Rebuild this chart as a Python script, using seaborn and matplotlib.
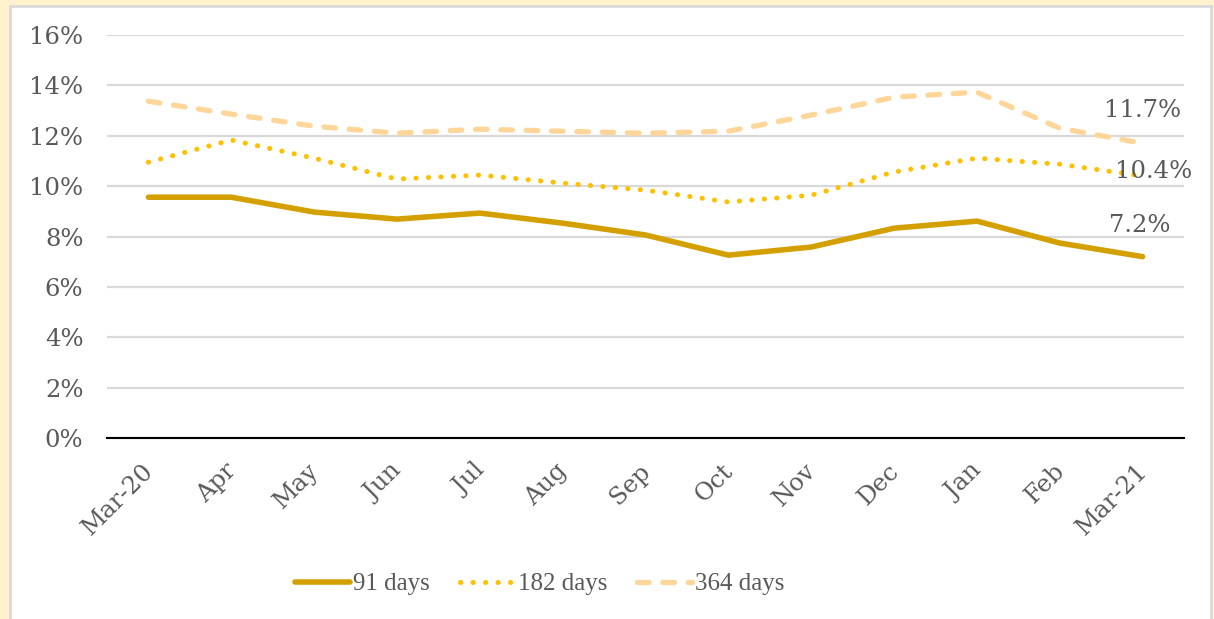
import matplotlib
matplotlib.use("Agg")
import matplotlib.pyplot as plt
import matplotlib.transforms as mtransforms
from matplotlib.patches import Rectangle
import seaborn as sns
import pandas as pd

months = ["Mar-20", "Apr", "May", "Jun", "Jul", "Aug", "Sep", "Oct", "Nov", "Dec", "Jan", "Feb", "Mar-21"]
days_91 = [9.56, 9.56, 8.97, 8.69, 8.93, 8.53, 8.06, 7.26, 7.58, 8.33, 8.61, 7.74, 7.2]
days_182 = [10.95, 11.83, 11.11, 10.28, 10.44, 10.12, 9.84, 9.37, 9.64, 10.56, 11.11, 10.87, 10.4]
days_364 = [13.37, 12.86, 12.38, 12.10, 12.26, 12.18, 12.10, 12.18, 12.82, 13.53, 13.73, 12.30, 11.7]
series_names = ["91 days", "182 days", "364 days"]
end_labels = ["7.2%", "10.4%", "11.7%"]
y_ticks = [0, 2, 4, 6, 8, 10, 12, 14, 16]

sns.set_theme(style="white")
plt.rcParams["font.family"] = ["DejaVu Serif"]
TXT = "#595959"
FS = 17.5

W, H = 1214, 619
fig = plt.figure(figsize=(W / 100, H / 100), dpi=100)
fig.patch.set_facecolor("#FFF2CC")
bg = Rectangle((10 / W, -0.01), (1211 - 10) / W, 1 - 6 / H + 0.01,
               transform=fig.transFigure, facecolor="white",
               edgecolor="#D9D9D9", linewidth=2, zorder=-10)
fig.patches.append(bg)

ax = fig.add_axes([107 / W, 1 - 438 / H, (1184 - 107) / W, (438 - 35) / H])
ax.set_facecolor("none")
ax.set_zorder(1)

df = pd.DataFrame({"month": months, "91 days": days_91, "182 days": days_182, "364 days": days_364})
x = list(range(len(months)))

styles = {
    "91 days": dict(color="#D4A000", linewidth=4.0, linestyle="-", solid_capstyle="round"),
    "182 days": dict(color="#FFC000", linewidth=3.6, linestyle=(0, (0.05, 2.45)), dash_capstyle="round"),
    "364 days": dict(color="#FFD699", linewidth=3.8, linestyle=(0, (2.2, 2.6)), dash_capstyle="round"),
}
handles = {}
for name in ["364 days", "182 days", "91 days"]:
    sns.lineplot(x=x, y=df[name], ax=ax, **styles[name])
    handles[name] = ax.get_lines()[-1]

ax.set_xlim(-0.5, len(months) - 0.5)
ax.set_ylim(0, 16)
ax.set_yticks(y_ticks)
ax.set_yticklabels([f"{v}%" for v in y_ticks], color=TXT, fontsize=FS)
ax.set_xticks(x)
ax.set_xticklabels(months, rotation=45, ha="right", rotation_mode="anchor", color=TXT, fontsize=FS)
ax.tick_params(axis="y", length=0, pad=17)
ax.tick_params(axis="x", length=0, pad=9)
shift = mtransforms.ScaledTranslation(-0.07, -0.09, fig.dpi_scale_trans)
for lab in ax.get_xticklabels():
    lab.set_transform(lab.get_transform() + shift)
ax.yaxis.grid(True, color="#D9D9D9", linewidth=1.6)
ax.set_axisbelow(True)
for s in ["top", "right", "left"]:
    ax.spines[s].set_visible(False)
ax.spines["bottom"].set_color("black")
ax.spines["bottom"].set_linewidth(1.5)
ax.set_xlabel("")
ax.set_ylabel("")

# end labels
last = len(months) - 1
ax.annotate(end_labels[0], (last, days_91[-1]), xytext=(-2, 14), textcoords="offset points",
            ha="center", va="bottom", color=TXT, fontsize=FS)
ax.annotate(end_labels[1], (last, days_182[-1]), xytext=(8, -5), textcoords="offset points",
            ha="center", va="bottom", color=TXT, fontsize=FS)
ax.annotate(end_labels[2], (last, days_364[-1]), xytext=(0, 15), textcoords="offset points",
            ha="center", va="bottom", color=TXT, fontsize=FS)

leg = fig.legend([handles[n] for n in series_names], series_names, loc="center",
                 bbox_to_anchor=(540 / W, 1 - 584 / H),
                 ncol=3, frameon=False, prop={"family": "Liberation Serif", "size": 18},
                 handlelength=2.2, handletextpad=0.12,
                 columnspacing=1.2, labelcolor=TXT)

fig.savefig("out.png", dpi=100, facecolor=fig.get_facecolor())
